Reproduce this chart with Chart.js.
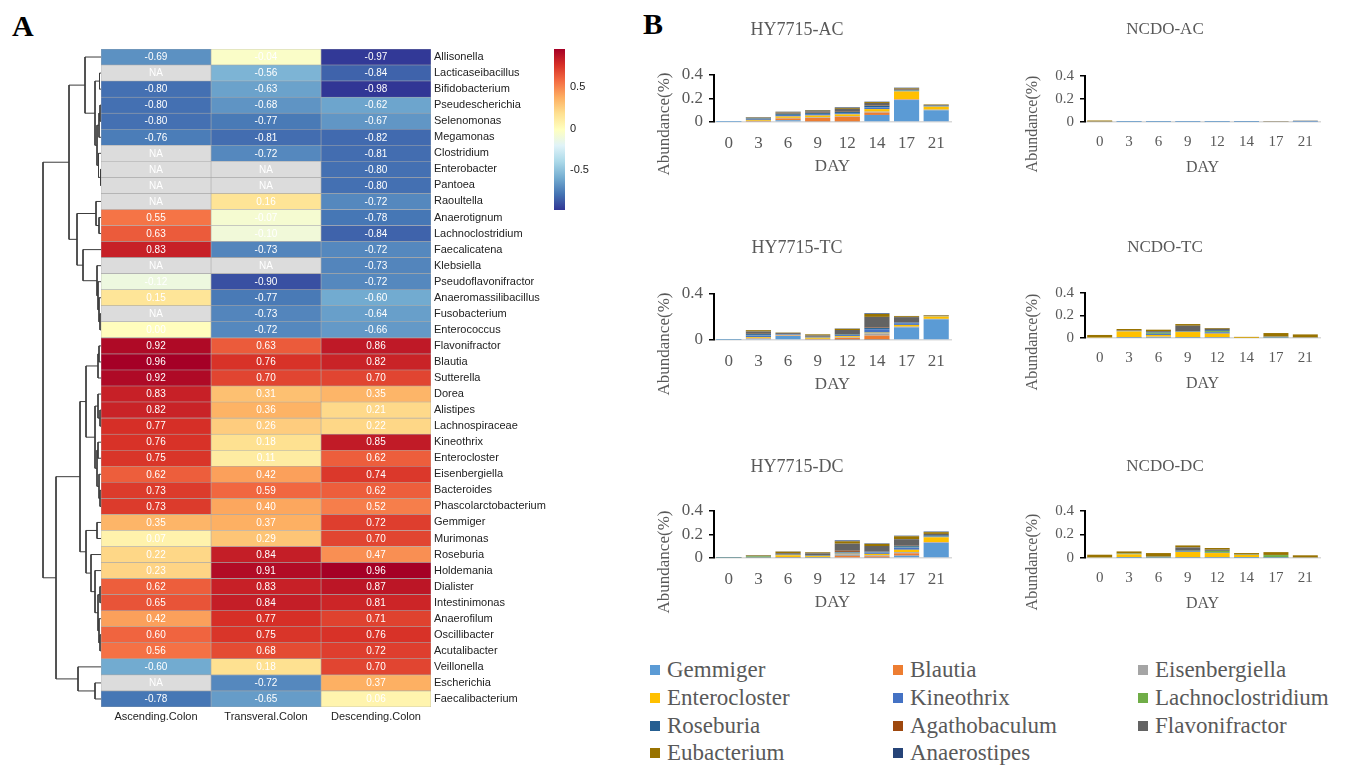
<!DOCTYPE html>
<html><head><meta charset="utf-8">
<script src="https://cdn.jsdelivr.net/npm/chart.js@4.4.1/dist/chart.umd.min.js"></script>
<style>
html,body{margin:0;padding:0;background:#fff;}
#page{position:relative;width:1347px;height:765px;overflow:hidden;background:#fff;}
#page canvas{position:absolute;display:block;}
.plabel{position:absolute;font:bold 30px 'Liberation Serif',serif;color:#000;line-height:1;}
.li{position:absolute;height:26px;display:flex;align-items:center;font:23px 'Liberation Serif',serif;color:#595959;white-space:nowrap;}
.sw{width:10px;height:10px;margin-right:7px;flex:none;}
</style></head><body><div id="page">
<div class="plabel" style="left:12px;top:11px;">A</div>
<div class="plabel" style="left:643px;top:9px;">B</div>
</div>
<script>
// ---------------- DATA ----------------
const rowNames = ['Allisonella','Lacticaseibacillus','Bifidobacterium','Pseudescherichia','Selenomonas','Megamonas','Clostridium','Enterobacter','Pantoea','Raoultella','Anaerotignum','Lachnoclostridium','Faecalicatena','Klebsiella','Pseudoflavonifractor','Anaeromassilibacillus','Fusobacterium','Enterococcus','Flavonifractor','Blautia','Sutterella','Dorea','Alistipes','Lachnospiraceae','Kineothrix','Enterocloster','Eisenbergiella','Bacteroides','Phascolarctobacterium','Gemmiger','Murimonas','Roseburia','Holdemania','Dialister','Intestinimonas','Anaerofilum','Oscillibacter','Acutalibacter','Veillonella','Escherichia','Faecalibacterium'];
const colNames = ['Ascending.Colon','Transveral.Colon','Descending.Colon'];
const ascending = [-0.69,null,-0.80,-0.80,-0.80,-0.76,null,null,null,null,0.55,0.63,0.83,null,-0.12,0.15,null,0.00,0.92,0.96,0.92,0.83,0.82,0.77,0.76,0.75,0.62,0.73,0.73,0.35,0.07,0.22,0.23,0.62,0.65,0.42,0.60,0.56,-0.60,null,-0.78];
const transversal = [-0.04,-0.56,-0.63,-0.68,-0.77,-0.81,-0.72,null,null,0.16,-0.07,-0.10,-0.73,null,-0.90,-0.77,-0.73,-0.72,0.63,0.76,0.70,0.31,0.36,0.26,0.18,0.11,0.42,0.59,0.40,0.37,0.29,0.84,0.91,0.83,0.84,0.77,0.75,0.68,0.18,-0.72,-0.65];
const descending = [-0.97,-0.84,-0.98,-0.62,-0.67,-0.82,-0.81,-0.80,-0.80,-0.72,-0.78,-0.84,-0.72,-0.73,-0.72,-0.60,-0.64,-0.66,0.86,0.82,0.70,0.35,0.21,0.22,0.85,0.62,0.74,0.62,0.52,0.72,0.70,0.47,0.96,0.87,0.81,0.71,0.76,0.72,0.70,0.37,0.06];
const colorTicks = [-0.5, 0, 0.5];
const colorMin = -0.98, colorMax = 0.96;
// dendrogram: [left, right, mergeHeight], leaves = row index
const dendroTree = [
  [
    [0, [[1,2,1.5],[[[3,4,1],5,2],[6,[7,8,0.5],2.5],4],6], 16],
    [[9,[10,11,2],5], [12,[13,[14,[15,[16,17,1],2],3],4],18], 24],
    32],
  [
    [ [[[18,19,2],20,3],[[21,[22,23,1],3],[[24,25,3],[26,[27,28,1],2],4],6],15],
      [[29,30,4],[31,[32,[[33,34,1],[35,[36,37,1],2],3],6],10],15], 21],
    [38,[39,40,6],23], 45],
  58];

const days = ['0','3','6','9','12','14','17','21'];
const abundanceTicks = [0, 0.2, 0.4];
const species = ['Gemmiger','Blautia','Eisenbergiella','Enterocloster','Kineothrix','Lachnoclostridium','Roseburia','Agathobaculum','Flavonifractor','Eubacterium','Anaerostipes'];
// rows follow species order, columns follow days
const HY7715_AC = [
  [0.001,0.005,0.015,0.005,0.005,0.060,0.187,0.100],
  [0,0.003,0.015,0.030,0.040,0.020,0.003,0.002],
  [0,0.002,0.005,0.005,0.005,0.008,0.005,0.003],
  [0,0.008,0.012,0.015,0.015,0.022,0.065,0.025],
  [0,0.008,0.012,0.012,0.010,0.015,0.005,0.004],
  [0,0.001,0.002,0.002,0.002,0.002,0.003,0.002],
  [0,0.004,0.008,0.008,0.008,0.010,0.005,0.003],
  [0,0.001,0.002,0.002,0.002,0.003,0.002,0.001],
  [0,0.005,0.010,0.012,0.025,0.022,0.008,0.005],
  [0,0.003,0.005,0.006,0.008,0.008,0.006,0.004],
  [0,0.002,0.002,0.005,0.005,0.003,0.003,0.001]];
const HY7715_TC = [
  [0.001,0.010,0.035,0.005,0.003,0.003,0.110,0.180],
  [0,0.003,0.003,0.003,0.015,0.035,0.003,0.002],
  [0,0.003,0.003,0.002,0.005,0.020,0.003,0.002],
  [0,0.008,0.003,0.010,0.010,0.006,0.015,0.020],
  [0,0.015,0.005,0.005,0.010,0.030,0.015,0.002],
  [0,0.002,0.001,0.001,0.002,0.002,0.002,0.001],
  [0,0.010,0.002,0.002,0.005,0.010,0.004,0.001],
  [0,0.003,0.001,0.001,0.002,0.005,0.002,0.001],
  [0,0.020,0.008,0.010,0.035,0.090,0.045,0.002],
  [0.001,0.011,0.003,0.010,0.010,0.025,0.008,0.005],
  [0,0.002,0.001,0.001,0.003,0.006,0.002,0.001]];
const HY7715_DC = [
  [0.001,0.002,0.003,0.002,0.005,0.003,0.020,0.130],
  [0,0.001,0.003,0.002,0.012,0.012,0.020,0.003],
  [0,0.001,0.002,0.002,0.015,0.008,0.010,0.003],
  [0.002,0.004,0.015,0.010,0.005,0.012,0.020,0.040],
  [0,0.001,0.002,0.002,0.008,0.012,0.020,0.005],
  [0.001,0.006,0.002,0.001,0.002,0.002,0.005,0.002],
  [0,0.001,0.002,0.002,0.005,0.005,0.010,0.010],
  [0,0.001,0.002,0.001,0.010,0.003,0.005,0.002],
  [0,0.002,0.010,0.018,0.060,0.045,0.050,0.010],
  [0.004,0.005,0.013,0.008,0.020,0.018,0.025,0.015],
  [0,0.001,0.002,0.002,0.008,0.004,0.005,0.005]];
const NCDO_AC = [
  [0,0.001,0.001,0.001,0.001,0.001,0,0.003],
  [0,0,0,0,0,0,0,0],
  [0.001,0.002,0.002,0.001,0.002,0.002,0.001,0.002],
  [0.002,0,0,0,0,0,0.001,0],
  [0,0.001,0.001,0.001,0.001,0.001,0,0.003],
  [0,0,0,0,0,0,0,0],
  [0,0,0,0,0,0,0,0.001],
  [0,0,0,0,0,0,0,0],
  [0,0.001,0.001,0.001,0.001,0.002,0.001,0.001],
  [0.010,0,0,0,0,0,0.002,0.001],
  [0,0,0,0,0,0,0,0.001]];
const NCDO_TC = [
  [0,0.002,0.003,0.002,0.003,0,0.001,0],
  [0,0.001,0.001,0.001,0.001,0,0,0],
  [0,0.005,0.008,0.005,0.005,0,0.002,0.001],
  [0.005,0.050,0.015,0.045,0.030,0.002,0.005,0.003],
  [0,0.002,0.010,0.002,0.012,0,0.001,0],
  [0,0.002,0.010,0.002,0.010,0,0.001,0.001],
  [0,0.001,0.005,0.001,0.008,0,0,0],
  [0,0.001,0.001,0.001,0.001,0,0.001,0],
  [0,0.003,0.008,0.050,0.012,0.001,0.003,0.002],
  [0.022,0.013,0.013,0.015,0.007,0.007,0.030,0.025],
  [0,0,0,0,0,0,0,0]];
const NCDO_DC = [
  [0,0.001,0.001,0.002,0.002,0.001,0.001,0],
  [0,0,0,0.001,0,0,0,0],
  [0.002,0.005,0.002,0.003,0.005,0.005,0.002,0.001],
  [0.004,0.025,0.005,0.045,0.035,0.020,0.003,0.003],
  [0,0.001,0.001,0.005,0.003,0.001,0.001,0],
  [0.001,0.005,0.001,0.005,0.015,0.002,0.018,0.001],
  [0,0,0,0.001,0.001,0,0,0],
  [0,0,0,0,0,0,0,0],
  [0.001,0.002,0.002,0.028,0.010,0.001,0.001,0],
  [0.020,0.017,0.030,0.017,0.014,0.012,0.024,0.018],
  [0,0,0,0,0,0,0,0]];

// ---------------- STYLE ----------------
const palette = ['#313695','#4575b4','#74add1','#abd9e9','#e0f3f8','#ffffbf','#fee090','#fdae61','#f46d43','#d73027','#a50026'];
const speciesColors = ['#5B9BD5','#ED7D31','#A5A5A5','#FFC000','#4472C4','#70AD47','#255E91','#9E480E','#636363','#997300','#264478'];
const SANS = '"Liberation Sans", Arial, sans-serif';
const SERIF = '"Liberation Serif", "Times New Roman", serif';
Chart.defaults.font.family = SANS;

const page = document.getElementById('page');
function addCanvas(left, top, w, h){
  const c = document.createElement('canvas');
  c.width = w; c.height = h;
  c.style.left = left + 'px'; c.style.top = top + 'px';
  c.style.width = w + 'px'; c.style.height = h + 'px';
  page.appendChild(c);
  return c;
}
function hex2rgb(h){ const n = parseInt(h.slice(1),16); return [(n>>16)&255,(n>>8)&255,n&255]; }
function heatColor(v){
  if (v === null) return '#dcdcdc';
  let t = (v - colorMin) / (colorMax - colorMin);
  t = Math.max(0, Math.min(1, t));
  const p = t * (palette.length - 1);
  const i = Math.min(Math.floor(p), palette.length - 2);
  const f = p - i;
  const a = hex2rgb(palette[i]), b = hex2rgb(palette[i+1]);
  const c = a.map((x,k)=>Math.round(x + (b[k]-x)*f));
  return 'rgb(' + c.join(',') + ')';
}

// ---------------- DENDROGRAM ----------------
function layoutTree(node, segs){
  if (typeof node === 'number') return {y: node, h: 0};
  const [a, b, h] = node;
  const A = layoutTree(a, segs), B = layoutTree(b, segs);
  segs.push({x:A.h,y:A.y},{x:h,y:A.y},{x:h,y:B.y},{x:B.h,y:B.y},{x:NaN,y:NaN});
  return {y:(A.y+B.y)/2, h};
}
const dendroSegs = [];
layoutTree(dendroTree, dendroSegs);
new Chart(addCanvas(0, 0, 104, 765), {
  type: 'scatter',
  data: { datasets: [{ data: dendroSegs, showLine: true, spanGaps: false, pointRadius: 0, borderColor: '#3c3c3c', borderWidth: 1, clip: false }] },
  options: {
    responsive: false, animation: false, devicePixelRatio: 1,
    layout: { padding: { left: 40, right: 3, top: 49, bottom: 58 } },
    plugins: { legend: { display: false }, tooltip: { enabled: false } },
    scales: {
      x: { type: 'linear', min: 0, max: 61, reverse: true, display: false },
      y: { type: 'linear', min: -0.5, max: rowNames.length - 0.5, reverse: true, display: false }
    }
  }
});

// ---------------- HEATMAP ----------------
const heatCols = [ascending, transversal, descending];
const cellText = {
  id: 'cellText',
  afterDatasetsDraw(chart){
    const ctx = chart.ctx;
    ctx.save();
    ctx.font = '10px ' + SANS;
    ctx.fillStyle = '#ffffff';
    ctx.textAlign = 'center';
    ctx.textBaseline = 'middle';
    chart.data.datasets.forEach((ds, di) => {
      chart.getDatasetMeta(di).data.forEach((el, i) => {
        const v = ds.values[i];
        ctx.fillText(v === null ? 'NA' : v.toFixed(2), (el.x + el.base) / 2, el.y + 0.5);
      });
    });
    ctx.restore();
  }
};
new Chart(addCanvas(91, 0, 470, 765), {
  type: 'bar',
  data: {
    labels: rowNames,
    datasets: heatCols.map((vals, c) => ({
      data: rowNames.map(() => [c, c + 1]),
      values: vals,
      backgroundColor: vals.map(heatColor),
      borderColor: '#a9a9a9', borderWidth: 0.6, borderSkipped: false,
      grouped: false, categoryPercentage: 1, barPercentage: 1
    }))
  },
  options: {
    indexAxis: 'y', responsive: false, animation: false, devicePixelRatio: 1,
    layout: { padding: { left: 10, right: 0, top: 49, bottom: 33 } },
    plugins: { legend: { display: false }, tooltip: { enabled: false } },
    scales: {
      x: {
        type: 'linear', min: 0, max: 3, position: 'bottom',
        grid: { display: false, drawTicks: false }, border: { display: false },
        afterBuildTicks: s => { s.ticks = colNames.map((n, i) => ({ value: i + 0.5 })); },
        ticks: { callback: (v, i) => colNames[i], font: { size: 11 }, color: '#222', padding: 3, maxRotation: 0, autoSkip: false },
        afterFit: s => { s.height = 25; }
      },
      y: {
        position: 'right', grid: { display: false, drawTicks: false }, border: { display: false },
        ticks: { font: { size: 11 }, color: '#222', padding: 3, autoSkip: false },
        afterFit: s => { s.width = 130; }
      }
    }
  },
  plugins: [cellText]
});

// ---------------- COLOR BAR ----------------
new Chart(addCanvas(540, 0, 60, 230), {
  type: 'bar',
  data: {
    labels: [''],
    datasets: [{
      data: [[colorMin, colorMax]],
      categoryPercentage: 1, barPercentage: 1, borderWidth: 0,
      backgroundColor: (c) => {
        const ch = c.chart, ys = ch.scales.y;
        if (!ys || !ch.chartArea) return '#cccccc';
        const g = ch.ctx.createLinearGradient(0, ys.getPixelForValue(colorMin), 0, ys.getPixelForValue(colorMax));
        palette.forEach((col, i) => g.addColorStop(i / (palette.length - 1), col));
        return g;
      }
    }]
  },
  options: {
    responsive: false, animation: false, devicePixelRatio: 1,
    layout: { padding: { left: 14, right: 0, top: 49, bottom: 20 } },
    plugins: { legend: { display: false }, tooltip: { enabled: false } },
    scales: {
      x: { display: false },
      y: {
        position: 'right', min: colorMin, max: colorMax,
        grid: { display: false, drawTicks: false }, border: { display: false },
        afterBuildTicks: s => { s.ticks = colorTicks.map(v => ({ value: v })); },
        ticks: { font: { size: 11 }, color: '#222', padding: 5 },
        afterFit: s => { s.width = 35; }
      }
    }
  }
});

// ---------------- STACKED BAR PANELS ----------------
const panelText = {
  id: 'panelText',
  afterDraw(chart, args, o){
    const ctx = chart.ctx, a = chart.chartArea;
    ctx.save();
    ctx.fillStyle = '#595959';
    ctx.textAlign = 'center';
    ctx.textBaseline = 'middle';
    ctx.font = o.titleSize + 'px ' + SERIF;
    ctx.fillText(o.title, o.titleX, a.top + o.titleDy);
    ctx.translate(o.ylabX, a.bottom + o.ylabDy);
    ctx.rotate(-Math.PI / 2);
    ctx.font = o.ylabSize + 'px ' + SERIF;
    ctx.fillText('Abundance(%)', 0, 0);
    ctx.restore();
  }
};
function makePanel(p){
  new Chart(addCanvas(p.left, p.top, p.w, p.h), {
    type: 'bar',
    data: {
      labels: days,
      datasets: species.map((s, k) => ({
        label: s, data: p.data[k], backgroundColor: speciesColors[k],
        borderWidth: 0, categoryPercentage: 0.85, barPercentage: 1
      }))
    },
    options: {
      responsive: false, animation: false, devicePixelRatio: 1,
      layout: { padding: p.pad },
      plugins: {
        legend: { display: false }, tooltip: { enabled: false },
        panelText: { title: p.title, titleX: p.titleX, titleDy: p.titleDy, titleSize: p.fs.title, ylabX: p.ylabX, ylabDy: p.ylabDy, ylabSize: p.fs.ylab }
      },
      scales: {
        x: {
          stacked: true,
          grid: { display: true, drawOnChartArea: false, drawTicks: false },
          border: { display: true, color: '#d9d9d9', width: 1.5 },
          ticks: { font: { family: SERIF, size: p.fs.tick }, color: '#595959', padding: 11, maxRotation: 0, autoSkip: false },
          title: { display: true, text: 'DAY', font: { family: SERIF, size: p.fs.day }, color: '#595959', padding: { top: 0, bottom: 0 } },
          afterFit: s => { s.height = 55; }
        },
        y: {
          stacked: true, min: 0, max: 0.4,
          afterBuildTicks: s => { s.ticks = abundanceTicks.map(v => ({ value: v })); },
          grid: { display: true, drawOnChartArea: false, drawTicks: true, tickLength: 5, color: '#000', lineWidth: 1.5 },
          border: { display: true, color: '#000', width: 2 },
          ticks: { font: { family: SERIF, size: p.fs.tick }, color: '#595959', padding: 6 },
          afterFit: s => { s.width = 40; }
        }
      }
    },
    plugins: [panelText]
  });
}
const leftFs = { tick: 17, day: 17, title: 18, ylab: 17 };
const rightFs = { tick: 15, day: 16, title: 17, ylab: 16 };
makePanel({ title: 'HY7715-AC', data: HY7715_AC, left: 640, top: 0, w: 340, h: 215, pad: { left: 34, right: 29, top: 75, bottom: 38 }, titleX: 157, titleDy: -45, ylabX: 25, ylabDy: 2, fs: leftFs });
makePanel({ title: 'HY7715-TC', data: HY7715_TC, left: 640, top: 215, w: 340, h: 215, pad: { left: 34, right: 29, top: 79, bottom: 35 }, titleX: 157, titleDy: -46, ylabX: 25, ylabDy: 4, fs: leftFs });
makePanel({ title: 'HY7715-DC', data: HY7715_DC, left: 640, top: 430, w: 340, h: 215, pad: { left: 34, right: 29, top: 81, bottom: 32 }, titleX: 157, titleDy: -44, ylabX: 25, ylabDy: 4, fs: leftFs });
makePanel({ title: 'NCDO-AC', data: NCDO_AC, left: 1000, top: 0, w: 347, h: 215, pad: { left: 45, right: 27, top: 76, bottom: 38 }, titleX: 165, titleDy: -46, ylabX: 33, ylabDy: 2, fs: rightFs });
makePanel({ title: 'NCDO-TC', data: NCDO_TC, left: 1000, top: 215, w: 347, h: 215, pad: { left: 45, right: 27, top: 78, bottom: 37 }, titleX: 165, titleDy: -45, ylabX: 33, ylabDy: 4, fs: rightFs });
makePanel({ title: 'NCDO-DC', data: NCDO_DC, left: 1000, top: 430, w: 347, h: 215, pad: { left: 45, right: 27, top: 81, bottom: 32 }, titleX: 165, titleDy: -44, ylabX: 33, ylabDy: 4, fs: rightFs });

// ---------------- LEGEND ----------------
const legendColX = [650, 893, 1138];
const legendRowY = [670, 698, 726, 753];
species.forEach((s, i) => {
  const d = document.createElement('div');
  d.className = 'li';
  d.style.left = legendColX[i % 3] + 'px';
  d.style.top = (legendRowY[Math.floor(i / 3)] - 13) + 'px';
  const sw = document.createElement('span');
  sw.className = 'sw'; sw.style.background = speciesColors[i];
  const t = document.createElement('span');
  t.textContent = s;
  d.appendChild(sw); d.appendChild(t);
  page.appendChild(d);
});
</script>
</body></html>
